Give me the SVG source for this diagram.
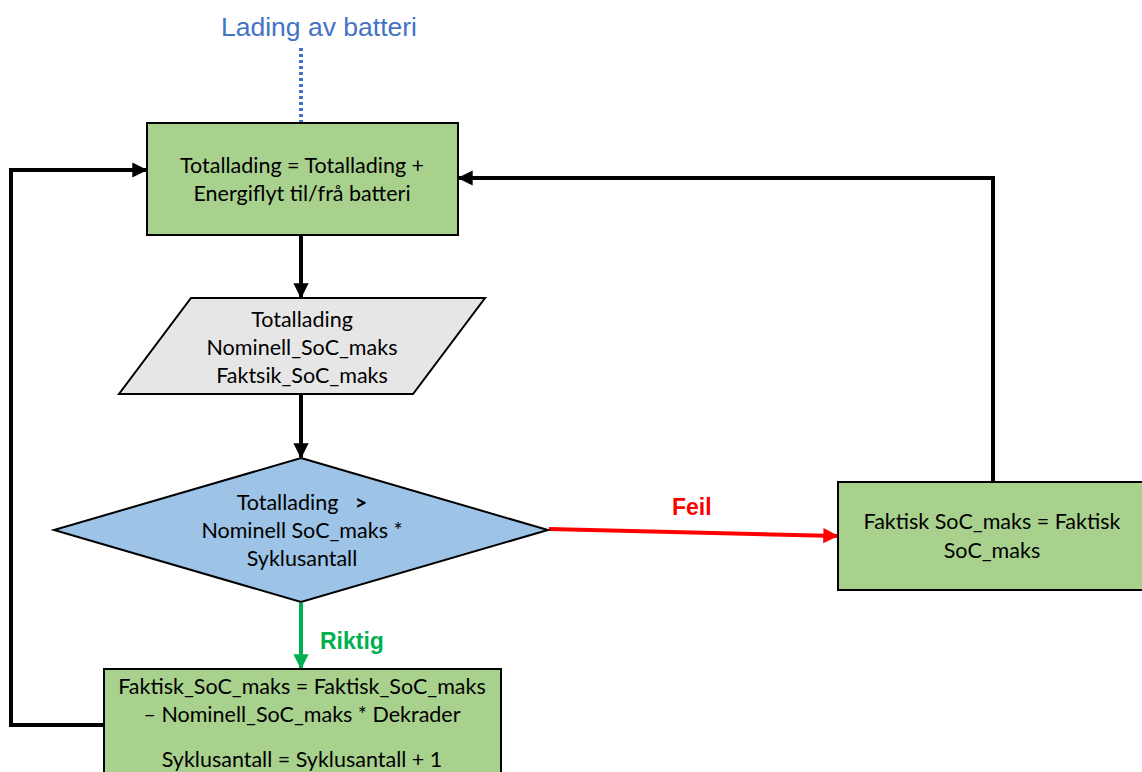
<svg xmlns="http://www.w3.org/2000/svg" width="1142" height="772" viewBox="0 0 1142 772">
  <style>
    .box { fill: #a9d18e; stroke: #000; stroke-width: 2; }
    .io { fill: #e7e6e6; stroke: #000; stroke-width: 2; }
    .dec { fill: #9dc3e6; stroke: #000; stroke-width: 2; }
    .t { font-family: Lato, "Open Sans", sans-serif; font-size: 21.5px; fill: #000; text-anchor: middle; }
    .lbl { font-family: "Liberation Sans", Arial, sans-serif; font-weight: bold; font-size: 23px; }
    .wire { fill: none; stroke: #000; stroke-width: 4; }
  </style>
  <defs>
    <marker id="ah" viewBox="0 0 10 10" refX="9" refY="5" markerWidth="3.8" markerHeight="3.8" orient="auto" markerUnits="strokeWidth">
      <path d="M0,0 L10,5 L0,10 z" fill="#000"/>
    </marker>
    <marker id="ahG" viewBox="0 0 10 10" refX="9" refY="5" markerWidth="3.8" markerHeight="3.8" orient="auto" markerUnits="strokeWidth">
      <path d="M0,0 L10,5 L0,10 z" fill="#00b050"/>
    </marker>
    <marker id="ahR" viewBox="0 0 10 10" refX="9" refY="5" markerWidth="3.8" markerHeight="3.8" orient="auto" markerUnits="strokeWidth">
      <path d="M0,0 L10,5 L0,10 z" fill="#ff0000"/>
    </marker>
  </defs>

  <!-- input label -->
  <text x="319" y="36" font-family="'Liberation Sans', Arial, sans-serif" font-size="26.5" fill="#4472c4" text-anchor="middle">Lading av batteri</text>

  <g id="connectors">
    <line x1="301" y1="48" x2="301" y2="122" stroke="#4472c4" stroke-width="4" stroke-dasharray="3 3"/>
    <line class="wire" x1="301" y1="236" x2="301" y2="297" marker-end="url(#ah)"/>
    <line class="wire" x1="301" y1="395" x2="301" y2="457" marker-end="url(#ah)"/>
    <line x1="301" y1="603" x2="301" y2="668" stroke="#00b050" stroke-width="4" fill="none" marker-end="url(#ahG)"/>
    <line x1="549" y1="529" x2="837" y2="536" stroke="#ff0000" stroke-width="4" fill="none" marker-end="url(#ahR)"/>
    <polyline class="wire" points="104,725 11,725 11,170 146,170" marker-end="url(#ah)"/>
    <polyline class="wire" points="993,481 993,178 459,178" marker-end="url(#ah)"/>
    <text class="lbl" x="320" y="649" fill="#00b050">Riktig</text>
    <text class="lbl" x="672" y="515" fill="#ff0000">Feil</text>
  </g>

  <g id="update-total">
    <rect class="box" x="147" y="123" width="311" height="112"/>
    <text class="t" x="302" y="173">Totallading = Totallading +</text>
    <text class="t" x="302" y="201">Energiflyt til/frå batteri</text>
  </g>

  <g id="inputs">
    <polygon class="io" points="191,298 485,298 413,394 119,394"/>
    <text class="t" x="302" y="327">Totallading</text>
    <text class="t" x="302" y="355">Nominell_SoC_maks</text>
    <text class="t" x="302" y="383">Faktsik_SoC_maks</text>
  </g>

  <g id="check">
    <polygon class="dec" points="301,458 548,530 301,602 54,530"/>
    <text class="t" x="302" y="510" xml:space="preserve">Totallading   <tspan font-weight="bold">&gt;</tspan></text>
    <text class="t" x="302" y="538">Nominell SoC_maks *</text>
    <text class="t" x="302" y="566">Syklusantall</text>
  </g>

  <g id="degrade">
    <rect class="box" x="104" y="669" width="397" height="110"/>
    <text class="t" x="302" y="694">Faktisk_SoC_maks = Faktisk_SoC_maks</text>
    <text class="t" x="302" y="722">– Nominell_SoC_maks * Dekrader</text>
    <text class="t" x="302" y="767">Syklusantall = Syklusantall + 1</text>
  </g>

  <g id="keep">
    <rect class="box" x="838" y="482" width="310" height="108"/>
    <text class="t" x="992" y="529">Faktisk SoC_maks = Faktisk</text>
    <text class="t" x="992" y="558">SoC_maks</text>
  </g>
</svg>
